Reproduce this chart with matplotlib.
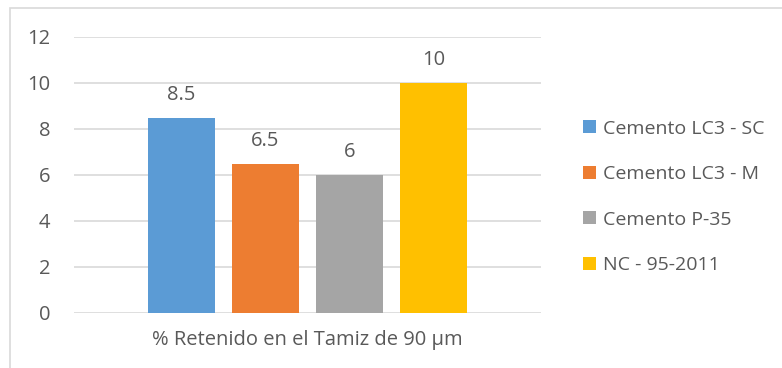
import matplotlib.pyplot as plt
from matplotlib.patches import Rectangle

# datos
series = ["Cemento LC3 - SC", "Cemento LC3 - M", "Cemento P-35", "NC - 95-2011"]
valores = [8.5, 6.5, 6, 10]
colores = ["#5B9BD5", "#ED7D31", "#A5A5A5", "#FFC000"]
categoria = "% Retenido en el Tamiz de 90 µm"
yticks = [0, 2, 4, 6, 8, 10, 12]

plt.rcParams['font.family'] = ['Open Sans', 'DejaVu Sans']
texto = "#595959"

fig = plt.figure(figsize=(7.82, 3.68), dpi=100)
W, H = 782, 368
ax = fig.add_axes([74 / W, 1 - 313 / H, (541 - 74) / W, (313 - 37) / H])

# borde del grafico (solo arriba e izquierda visibles)
fig.patches.append(Rectangle((10 / W, -0.1), 1.2, 1 - 8 / H + 0.1,
                             transform=fig.transFigure, fill=False,
                             edgecolor="#D9D9D9", linewidth=1.2))

ancho = 67 / 467
paso = 84 / 467
for i, (s, v, c) in enumerate(zip(series, valores, colores)):
    x = (i - 1.5) * paso
    ax.bar(x, v, width=ancho, color=c, label=s, zorder=3)
    ax.text(x, v + 0.98, f"{v:g}", ha="center", va="center",
            fontsize=14.5, color=texto)

ax.set_xlim(-0.5, 0.5)
ax.set_ylim(0, 12)
ax.set_yticks(yticks)
ax.set_xticks([0])
ax.set_xticklabels([categoria])
ax.tick_params(axis="both", length=0, labelsize=14.5, labelcolor=texto)
ax.tick_params(axis="y", pad=17)
ax.tick_params(axis="x", pad=12)
ax.grid(axis="y", color="#D9D9D9", linewidth=1.2, zorder=0)
for sp in ax.spines.values():
    sp.set_visible(False)

leg = ax.legend(loc="center left", frameon=False, fontsize=14,
                handlelength=0.65, handleheight=0.65,
                handletextpad=0.4, labelspacing=1.42, labelcolor=texto,
                borderpad=0, borderaxespad=0)
leg.set_bbox_to_anchor((583 / W, 1 - 197 / H), transform=fig.transFigure)

fig.savefig("out.png", dpi=100)
